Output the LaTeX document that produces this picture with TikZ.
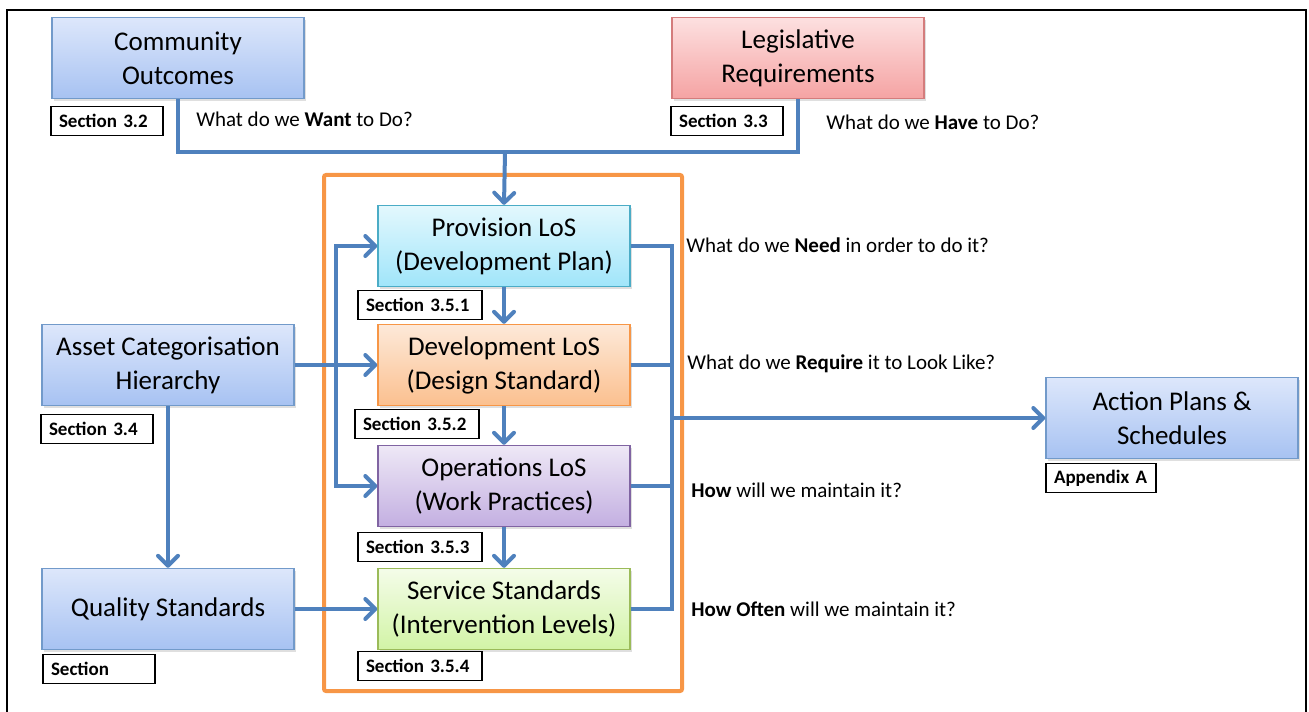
\documentclass[tikz,border=0pt]{standalone}
\usepackage{fontspec}
\setmainfont{Carlito}
\usetikzlibrary{arrows.meta,shadows}

\definecolor{linkblue}{HTML}{4F81BD}
\definecolor{frameorange}{HTML}{F79646}
\definecolor{blueTop}{HTML}{DDE7FB}
\definecolor{blueBot}{HTML}{A7C2F2}
\definecolor{redTop}{HTML}{FDE0E0}
\definecolor{redBot}{HTML}{F5A3A3}
\definecolor{redLine}{HTML}{D47C7C}
\definecolor{cyanTop}{HTML}{E3F8FD}
\definecolor{cyanBot}{HTML}{A0E5FA}
\definecolor{cyanLine}{HTML}{4BACC6}
\definecolor{orgTop}{HTML}{FDE9D9}
\definecolor{orgBot}{HTML}{FBC08F}
\definecolor{violTop}{HTML}{EEE8F6}
\definecolor{violBot}{HTML}{C3AFE1}
\definecolor{violLine}{HTML}{8064A2}
\definecolor{grnTop}{HTML}{F4FCE9}
\definecolor{grnBot}{HTML}{D2F4A6}
\definecolor{grnLine}{HTML}{9BBB59}

\begin{document}
\begin{tikzpicture}[
    x=0.5pt, y=-0.5pt,
    box/.style={rectangle, draw, line width=0.7pt, minimum width=126pt, minimum height=40.5pt,
        align=center, inner sep=2pt, font=\fontsize{13.5}{17}\selectfont,
        drop shadow={opacity=0.25, shadow xshift=1.2pt, shadow yshift=-1.2pt}},
    bluebox/.style={box, draw=linkblue!80, top color=blueTop, bottom color=blueBot},
    sec/.style={rectangle, draw, fill=white, line width=0.6pt, minimum height=14.5pt, inner xsep=4pt,
        inner ysep=0pt, align=left, font=\fontsize{9.5}{11}\bfseries\selectfont},
    ask/.style={anchor=west, inner sep=0pt, font=\fontsize{10.5}{12}\selectfont},
    conn/.style={draw=linkblue, line width=2pt},
    arr/.style={conn, -{Straight Barb[length=5pt, width=10pt, round]}},
]
\useasboundingbox (0,0) rectangle (1309,711);
\draw[line width=1.2pt] (7,715) -- (7,10) -- (1306,10) -- (1306,715);

% outer goal boxes
\node[bluebox] (comm) at (178,58) {Community\\Outcomes};
\node[sec, text width=48pt] (s32) at (107,121) {Section 3.2};
\node[ask] (qwant) at (196,119) {What do we \textbf{Want} to Do?};

\node[box, draw=redLine, top color=redTop, bottom color=redBot] (legis) at (798,58) {Legislative\\Requirements};
\node[sec, text width=48pt] (s33) at (727,121) {Section 3.3};
\node[ask] (qhave) at (826,122) {What do we \textbf{Have} to Do?};

% levels of service
\node[box, draw=cyanLine, top color=cyanTop, bottom color=cyanBot] (prov) at (504,246) {Provision LoS\\(Development Plan)};
\node[sec, text width=54pt] (s351) at (420,305) {Section 3.5.1};

\node[box, draw=frameorange, top color=orgTop, bottom color=orgBot] (dev) at (504,365) {Development LoS\\(Design Standard)};
\node[sec, text width=54pt] (s352) at (417,424) {Section 3.5.2};

\node[box, draw=violLine, top color=violTop, bottom color=violBot] (ops) at (504,486) {Operations LoS\\(Work Practices)};
\node[sec, text width=54pt] (s353) at (420,547) {Section 3.5.3};

\node[box, draw=grnLine, top color=grnTop, bottom color=grnBot] (serv) at (504,609) {Service Standards\\(Intervention Levels)};
\node[sec, text width=54pt] (s354) at (420,666) {Section 3.5.4};

% left side
\node[bluebox] (asset) at (168,365) {Asset Categorisation\\Hierarchy};
\node[sec, text width=48pt] (s34) at (97,429) {Section 3.4};
\node[bluebox] (qual) at (168,609) {Quality Standards};
\node[sec, text width=48pt] (sq) at (99,669) {Section};

% right side
\node[bluebox] (act) at (1172,418) {Action Plans \&\\Schedules};
\node[sec, text width=47pt] (sapp) at (1101,478) {Appendix A};

\node[ask] (qneed) at (686,245) {What do we \textbf{Need} in order to do it?};
\node[ask] (qlook) at (687,364) {What do we \textbf{Require} it to Look Like?};
\node[ask] (qhow) at (691,490) {\textbf{How} will we maintain it?};
\node[ask] (qoften) at (691,609) {\textbf{How Often} will we maintain it?};

\draw[frameorange, line width=2pt, rounded corners=1pt] (324,175) rectangle (682,691);

\coordinate (top) at (505,152);
\coordinate (lj) at (336,365);
\coordinate (rj) at (672,418);

\draw[conn] (comm.south) |- (top) -| (legis.south);
\draw[arr] (top) -- (prov.north);

\draw[arr] (prov) -- (dev);
\draw[arr] (dev) -- (ops);
\draw[arr] (ops) -- (serv);

\draw[arr] (asset.east) -- (dev.west);
\draw[arr] (lj) |- (prov.west);
\draw[arr] (lj) |- (ops.west);
\draw[arr] (asset) -- (qual);
\draw[arr] (qual.east) -- (serv.west);

\draw[conn] (prov.east) -| (rj);
\draw[conn] (dev.east) -| (rj);
\draw[conn] (ops.east) -| (rj);
\draw[conn] (serv.east) -| (rj);
\draw[arr] (rj) -- (act.west);

\end{tikzpicture}
\end{document}
